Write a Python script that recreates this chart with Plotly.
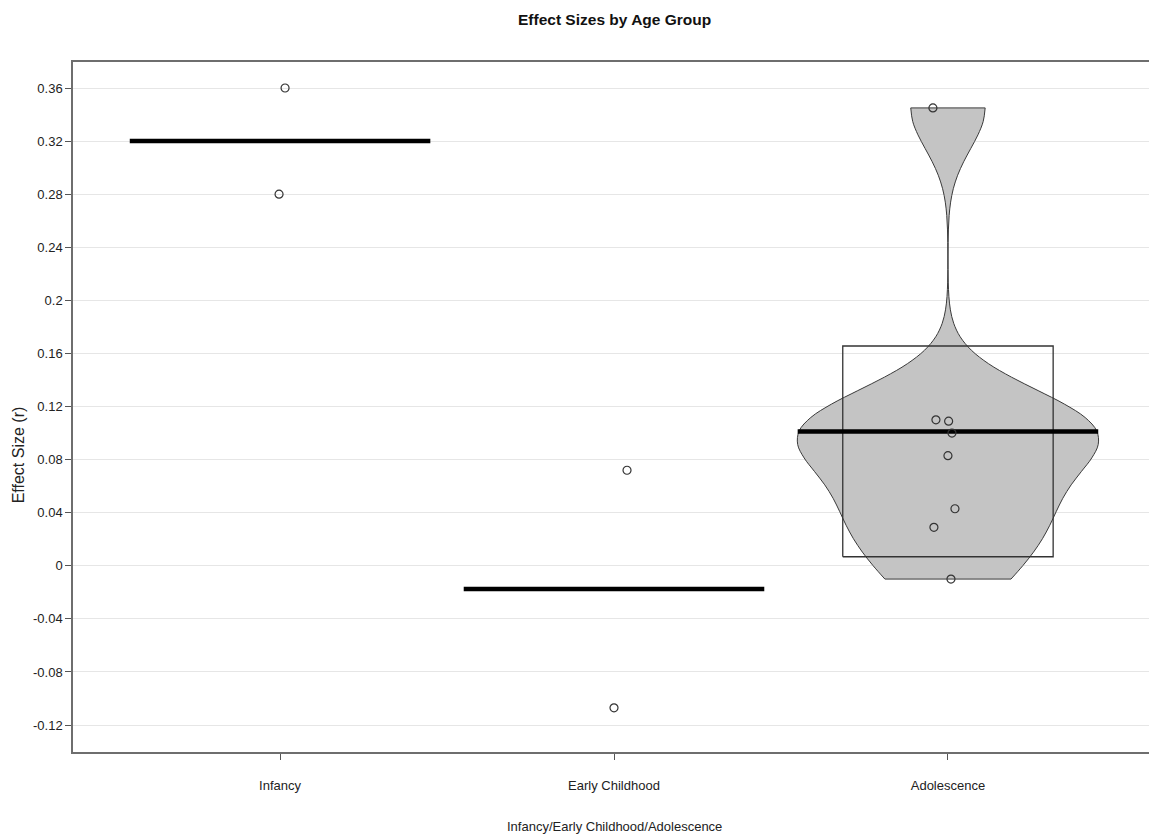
import numpy as np
import plotly.graph_objects as go

# ---------------- data ----------------
categories = ["Infancy", "Early Childhood", "Adolescence"]
infancy = [0.36, 0.28]
early_childhood = [0.072, -0.107]
adolescence = [0.345, 0.110, 0.109, 0.100, 0.083, 0.043, 0.029, -0.010]

# horizontal jitter of the raw points (category units)
infancy_jitter = [0.015, -0.003]
early_jitter = [0.039, 0.0]
adolescence_jitter = [-0.045, -0.036, 0.002, 0.012, 0.0, 0.021, -0.042, 0.009]

# inference band (HDI) for Adolescence
adol_hdi_low = 0.0068
adol_hdi_high = 0.1656

y_ticks = [0.36, 0.32, 0.28, 0.24, 0.2, 0.16, 0.12, 0.08, 0.04, 0, -0.04, -0.08, -0.12]
y_ticklabels = ["0.36", "0.32", "0.28", "0.24", "0.2", "0.16", "0.12", "0.08",
                "0.04", "0", "-0.04", "-0.08", "-0.12"]

groups = [infancy, early_childhood, adolescence]
jitters = [infancy_jitter, early_jitter, adolescence_jitter]

# ---------------- styling ----------------
FONT = "Liberation Sans, Arial, sans-serif"
BEAN_FILL = "rgb(196,196,196)"
LINE_DARK = "#3a3a3a"
BEAN_HALF = 0.45
BOX_HALF = 0.315


def bw_nrd0(x):
    x = np.asarray(x, dtype=float)
    sd = np.std(x, ddof=1)
    iqr = np.subtract(*np.percentile(x, [75, 25]))
    lo = min(sd, iqr / 1.34)
    return 0.9 * lo * len(x) ** (-0.2)


fig = go.Figure()

# bean (violin) for Adolescence
fig.add_trace(go.Violin(
    x=[3] * len(adolescence), y=adolescence,
    bandwidth=bw_nrd0(adolescence), spanmode="hard",
    scalemode="width", width=2 * BEAN_HALF, side="both",
    fillcolor=BEAN_FILL, line=dict(color=LINE_DARK, width=1),
    points=False, box_visible=False, meanline_visible=False,
    opacity=1, showlegend=False, hoverinfo="skip",
))

# inference band box
fig.add_trace(go.Scatter(
    x=[3 - BOX_HALF, 3 + BOX_HALF, 3 + BOX_HALF, 3 - BOX_HALF, 3 - BOX_HALF],
    y=[adol_hdi_low, adol_hdi_low, adol_hdi_high, adol_hdi_high, adol_hdi_low],
    mode="lines", line=dict(color="#333333", width=1.3),
    showlegend=False, hoverinfo="skip",
))

# mean lines
for i, vals in enumerate(groups, start=1):
    m = float(np.mean(vals))
    fig.add_trace(go.Scatter(
        x=[i - BEAN_HALF, i + BEAN_HALF], y=[m, m], mode="lines",
        line=dict(color="black", width=4.5), showlegend=False, hoverinfo="skip",
    ))

# raw points
for i, (vals, jit) in enumerate(zip(groups, jitters), start=1):
    fig.add_trace(go.Scatter(
        x=[i + j for j in jit], y=vals, mode="markers",
        marker=dict(symbol="circle-open", size=8, color="#333333",
                    line=dict(width=1.2, color="#333333")),
        showlegend=False, hoverinfo="skip",
    ))

fig.update_layout(
    width=1153, height=832,
    margin=dict(l=65, r=4, t=54, b=88),
    paper_bgcolor="white", plot_bgcolor="white",
    font=dict(family=FONT, size=13, color="#222222"),
    showlegend=False,
    xaxis=dict(
        range=[0.38, 3.62], tickvals=[1, 2, 3], ticktext=categories,
        showgrid=False, zeroline=False,
        showline=True, mirror=True, linecolor="#6e6e6e", linewidth=1.5,
        ticks="outside", ticklen=6, tickcolor="#555555", tickwidth=1,
        ticklabelstandoff=15,
        tickfont=dict(family=FONT, size=13, color="#222222"),
    ),
    yaxis=dict(
        range=[-0.1403, 0.3796], tickvals=y_ticks, ticktext=y_ticklabels,
        showgrid=True, gridcolor="#e6e6e6", gridwidth=1, zeroline=False,
        showline=True, mirror=True, linecolor="#6e6e6e", linewidth=1.5,
        ticks="outside", ticklen=6, tickcolor="#555555", tickwidth=1,
        tickfont=dict(family=FONT, size=13, color="#222222"),
    ),
    annotations=[
        dict(text="<b>Effect Sizes by Age Group</b>", xref="paper", yref="paper",
             x=0.5, y=1, yshift=43, xanchor="center", yanchor="middle",
             showarrow=False, font=dict(family=FONT, size=15.5, color="#111111")),
        dict(text="Infancy/Early Childhood/Adolescence", xref="paper", yref="paper",
             x=0.5, y=0, yshift=-74, xanchor="center", yanchor="middle",
             showarrow=False, font=dict(family=FONT, size=13, color="#222222")),
        dict(text="Effect Size (r)", xref="paper", yref="paper",
             x=0, y=0.43, xshift=-55, xanchor="center", yanchor="middle",
             textangle=-90, showarrow=False,
             font=dict(family=FONT, size=16, color="#222222")),
    ],
)

fig.write_html("out.html")
